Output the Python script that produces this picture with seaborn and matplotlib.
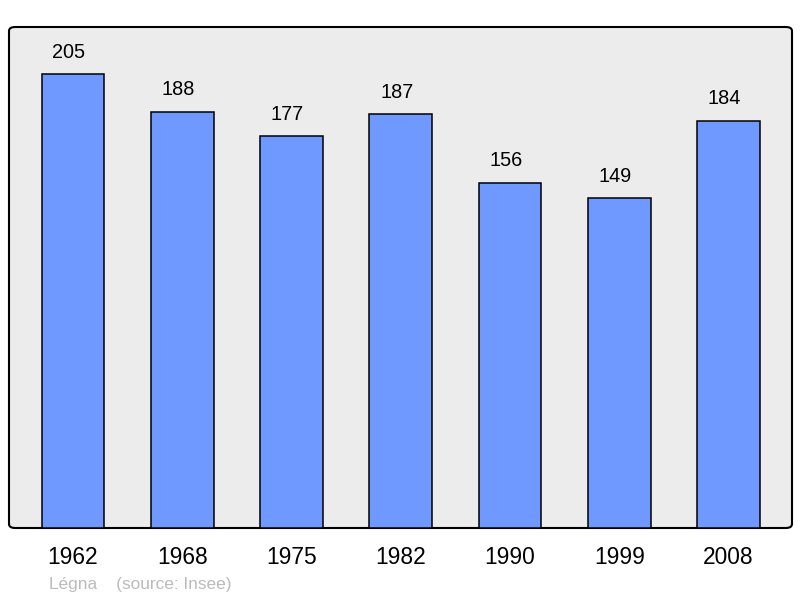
import numpy as np
import matplotlib
matplotlib.use("Agg")
import matplotlib.pyplot as plt
from matplotlib.patches import FancyBboxPatch
import pandas as pd
import seaborn as sns

# Data
years = ["1962", "1968", "1975", "1982", "1990", "1999", "2008"]
population = [205, 188, 177, 187, 156, 149, 184]
source_text = "Légna    (source: Insee)"

df = pd.DataFrame({"year": years, "pop": population})

sns.set_style("white")
plt.rcParams["font.family"] = ["Liberation Sans", "DejaVu Sans"]
plt.rcParams["text.color"] = "black"
plt.rcParams["xtick.color"] = "black"

fig = plt.figure(figsize=(8, 5.98), dpi=100)
ax = fig.add_axes([9 / 800, 70 / 598, 783 / 800, 501 / 598])
ax.set_facecolor("none")

# rounded frame behind the bars
frame = FancyBboxPatch((0, 0), 1, 1, boxstyle="round,pad=0,rounding_size=0.008",
                       transform=ax.transAxes, facecolor="#ececec",
                       edgecolor="black", linewidth=1.5, zorder=0, clip_on=False)
ax.add_patch(frame)

sns.barplot(data=df, x="year", y="pop", color="#7099ff", saturation=1,
            width=0.575, edgecolor="black", linewidth=1.1, ax=ax, zorder=2)

# value labels, sit a touch left of bar centre like the original
for i, v in enumerate(population):
    ax.text(i - 0.037, v + 5.6, str(v), ha="center", va="bottom",
            fontsize=14.3, color="black", zorder=3)

ax.set_xlim(-0.585, 6.58)
ax.set_ylim(0, 226.3)
ax.set_yticks([])
ax.set_xlabel("")
ax.set_ylabel("")
ax.tick_params(axis="x", length=0, pad=13, labelsize=16.4, labelcolor="black")
for s in ax.spines.values():
    s.set_visible(False)

fig.text(49 / 800, 1 - 584 / 598, source_text, ha="left", va="center",
         fontsize=12.4, color="#bbbbbb")

fig.savefig("out.png", dpi=100)
